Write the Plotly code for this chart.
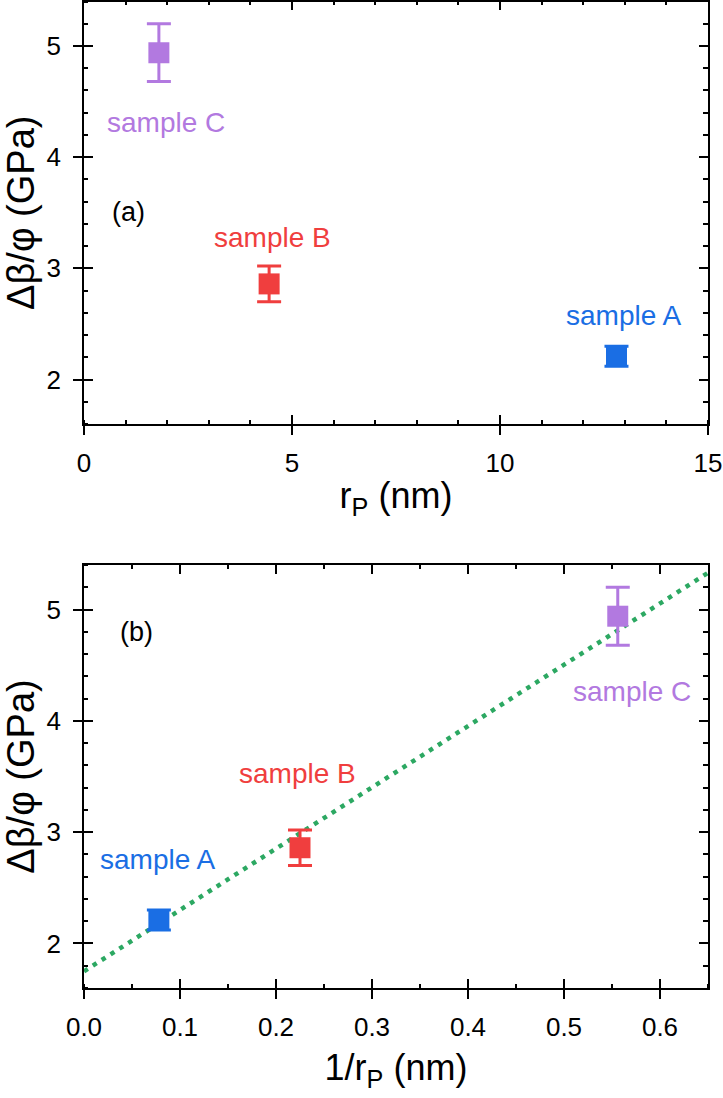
import plotly.graph_objects as go

# ---- data ----
samples = ["sample A", "sample B", "sample C"]
r_p = [12.8, 4.45, 1.80]                 # nm
inv_r_p = [0.078, 0.225, 0.556]          # 1/nm
dbeta_phi = [2.21, 2.86, 4.94]           # GPa
dbeta_err = [0.09, 0.16, 0.26]
colors = ["#1a6ee4", "#f03e3e", "#b279e0"]
fit_x = [0.0, 0.65]
fit_y = [1.75, 5.33]
fit_color = "#2ca862"

# label positions (data coords)
lab_a_x = [12.98, 4.53, 1.97]
lab_a_y = [2.58, 3.28, 4.31]
lab_b_x = [0.0766, 0.222, 0.5705]
lab_b_y = [2.75, 3.53, 4.26]

FONT = "Arial, Liberation Sans, sans-serif"
XDOM = [84 / 723, 708 / 723]
YDOM1 = [(1098 - 424) / 1098, (1098 - 1.5) / 1098]
YDOM2 = [(1098 - 988) / 1098, (1098 - 565) / 1098]

fig = go.Figure()

# fit line (bottom panel)
fig.add_trace(go.Scatter(x=fit_x, y=fit_y, mode="lines", xaxis="x2", yaxis="y2",
                         line=dict(color=fit_color, width=4.5, dash="4.5px,6px"),
                         showlegend=False, hoverinfo="skip"))

for i in range(3):
    for xs, xa, ya in ((r_p, "x", "y"), (inv_r_p, "x2", "y2")):
        fig.add_trace(go.Scatter(
            x=[xs[i]], y=[dbeta_phi[i]], mode="markers", xaxis=xa, yaxis=ya,
            marker=dict(symbol="square", size=21, color=colors[i], line=dict(width=0)),
            error_y=dict(type="data", array=[dbeta_err[i]], color=colors[i],
                         thickness=3, width=12),
            showlegend=False, name=samples[i]))

# empty traces to instantiate overlay axes
for xa, ya in (("x3", "y"), ("x4", "y"), ("x", "y3"), ("x", "y4"),
               ("x5", "y2"), ("x6", "y2"), ("x2", "y5"), ("x2", "y6")):
    fig.add_trace(go.Scatter(x=[], y=[], xaxis=xa, yaxis=ya, showlegend=False))

tickfont = dict(family=FONT, size=26, color="black")
LW = 1.5


def base_axis(**kw):
    d = dict(showgrid=False, zeroline=False, linecolor="black", linewidth=LW,
             tickcolor="black", tickwidth=LW, tickfont=tickfont, automargin=False)
    d.update(kw)
    return d


def panel(xid, yid, xov_top, xov_in, yov_right, yov_in, xrange, xdtick, xminor,
          ydom, xtitle, xfmt, xstandoff):
    xa = base_axis(domain=XDOM, range=xrange, anchor=yid, showline=True,
                   ticks="outside", ticklen=9, dtick=xdtick, tick0=0,
                   ticklabelstandoff=6,
                   minor=dict(ticks="inside", ticklen=4, dtick=xminor, tickwidth=LW,
                              tickcolor="black"),
                   title=dict(text=xtitle, font=dict(family=FONT, size=36, color="black"),
                              standoff=xstandoff))
    if xfmt:
        xa["tickformat"] = xfmt
    ya = base_axis(domain=ydom, range=[1.6, 5.4], anchor=xid, showline=True,
                   ticks="outside", ticklen=9, dtick=1, tick0=0, ticklabelstandoff=7,
                   minor=dict(ticks="inside", ticklen=4, dtick=0.2, tickwidth=LW,
                              tickcolor="black"),
                   title=dict(text="Δβ/φ (GPa)", font=dict(family=FONT, size=38, color="black"),
                              standoff=10))
    x_top = base_axis(overlaying=xid, matches=xid, anchor=yid, side="top", showline=True,
                      ticks="inside", ticklen=9, dtick=xdtick, tick0=0,
                      showticklabels=False,
                      minor=dict(ticks="inside", ticklen=4, dtick=xminor, tickwidth=LW,
                                 tickcolor="black"))
    x_in = base_axis(overlaying=xid, matches=xid, anchor=yid, side="bottom", showline=False,
                     ticks="inside", ticklen=9, dtick=xdtick, tick0=0, showticklabels=False)
    y_right = base_axis(overlaying=yid, matches=yid, anchor=xid, side="right", showline=True,
                        ticks="inside", ticklen=9, dtick=1, tick0=0, showticklabels=False,
                        minor=dict(ticks="inside", ticklen=5, dtick=0.2, tickwidth=LW,
                                   tickcolor="black"))
    y_in = base_axis(overlaying=yid, matches=yid, anchor=xid, side="left", showline=False,
                     ticks="inside", ticklen=9, dtick=1, tick0=0, showticklabels=False)
    return {
        ("xaxis" if xid == "x" else "xaxis" + xid[1:]): xa,
        ("yaxis" if yid == "y" else "yaxis" + yid[1:]): ya,
        "xaxis" + xov_top[1:]: x_top,
        "xaxis" + xov_in[1:]: x_in,
        "yaxis" + yov_right[1:]: y_right,
        "yaxis" + yov_in[1:]: y_in,
    }


axes = {}
axes.update(panel("x", "y", "x3", "x4", "y3", "y4", [0, 15], 5, 1, YDOM1,
                  "r<sub>P</sub> (nm)", None, 6))
axes.update(panel("x2", "y2", "x5", "x6", "y5", "y6", [0, 0.65], 0.1, 0.05, YDOM2,
                  "1/r<sub>P</sub> (nm)", ".1f", 14))

annotations = []
for i in range(3):
    annotations.append(dict(x=lab_a_x[i], y=lab_a_y[i], xref="x", yref="y", text=samples[i],
                            showarrow=False, font=dict(family=FONT, size=28, color=colors[i])))
    annotations.append(dict(x=lab_b_x[i], y=lab_b_y[i], xref="x2", yref="y2", text=samples[i],
                            showarrow=False, font=dict(family=FONT, size=28, color=colors[i])))
annotations.append(dict(x=1.06, y=3.51, xref="x", yref="y", text="(a)", showarrow=False,
                        font=dict(family=FONT, size=27, color="black")))
annotations.append(dict(x=0.0549, y=4.80, xref="x2", yref="y2", text="(b)", showarrow=False,
                        font=dict(family=FONT, size=27, color="black")))

fig.update_layout(width=723, height=1098, margin=dict(l=0, r=0, t=0, b=0),
                  paper_bgcolor="white", plot_bgcolor="white", showlegend=False,
                  annotations=annotations, **axes)

fig.write_html("out.html")
